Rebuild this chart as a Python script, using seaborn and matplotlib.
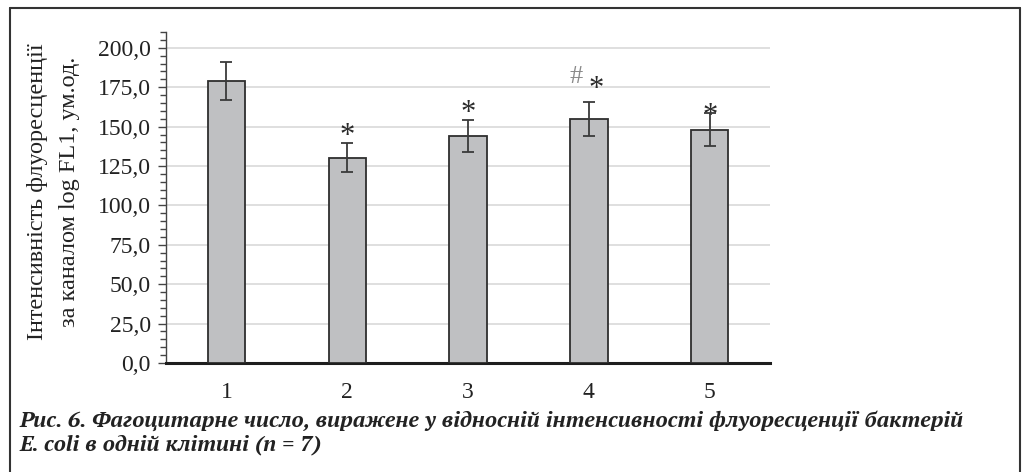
import matplotlib
matplotlib.use("Agg")
import matplotlib.pyplot as plt
from matplotlib.lines import Line2D
from matplotlib.ticker import MultipleLocator, FuncFormatter
from matplotlib import font_manager as fm
from matplotlib.ft2font import FT2Font
import seaborn as sns
import pandas as pd

groups = ["1", "2", "3", "4", "5"]
means = [178.9, 130.2, 144.3, 154.9, 148.1]
errors = [12.2, 9.2, 10.1, 10.9, 10.4]
marks = ["", "*", "*", "*", "*"]
extra_marks = ["", "", "", "#", ""]

ylabel_lines = ["Інтенсивність флуоресценції", "за каналом log FL1, ум.од."]
caption_lines = [
    "Рис. 6. Фагоцитарне число, виражене у відносній інтенсивності флуоресценції бактерій",
    "E. coli в одній клітині (n = 7)",
]

sns.set_theme(style="white")
serif_name = "Liberation Serif"
plt.rcParams["font.serif"] = [serif_name, "DejaVu Serif"]
plt.rcParams["font.family"] = ["serif"]


def covers(family, text):
    """True if the bold-italic face of `family` has every glyph in `text`."""
    prop = fm.FontProperties(family=family, style="italic", weight="bold")
    path = fm.findfont(prop, fallback_to_default=False)
    if fm.FontProperties(fname=path).get_name() != family:
        return False
    cmap = FT2Font(path).get_charmap()
    return all(ord(c) in cmap for c in text if not c.isspace())


# schoolbook-style face for the caption, if one with Cyrillic is installed
installed = {f.name for f in fm.fontManager.ttflist}
caption_font = "DejaVu Serif"
for name in ["C059", "TeX Gyre Schola", "Century Schoolbook L", "PT Serif"]:
    try:
        if name in installed and covers(name, "".join(caption_lines)):
            caption_font = name
            break
    except Exception:
        pass

df = pd.DataFrame({"group": groups, "value": means})

fig = plt.figure(figsize=(10.31, 4.72), dpi=100)
ax = fig.add_axes([0.161, 0.231, 0.586, 0.701])

sns.barplot(data=df, x="group", y="value", ax=ax, width=0.31,
            color="#bfc0c2", saturation=1, edgecolor="#2e2e2e", linewidth=1.3,
            errorbar=None, zorder=3)
ax.errorbar(range(len(groups)), means, yerr=errors, fmt="none",
            ecolor="#3a3a3a", elinewidth=1.3, capsize=4, capthick=1.3, zorder=4)

# vertical offset (points) of each significance mark above its error bar
star_dy = {1: 4.7, 2: 4.8, 3: 9.1, 4: -2.0}
for i, (m, e, s, x2) in enumerate(zip(means, errors, marks, extra_marks)):
    if not s:
        continue
    top = m + e
    dx = 5 if x2 else 0
    ax.annotate(s, (i, top), xytext=(dx, star_dy[i]), textcoords="offset points",
                ha="center", va="center", fontsize=22, color="#2a2a2a",
                family=serif_name)
    if x2:
        ax.annotate(x2, (i, top), xytext=(-9, 17.5), textcoords="offset points",
                    ha="center", va="center", fontsize=19, color="#8a8a8a",
                    family=serif_name)

ax.set_ylim(0, 210)
ax.set_xlim(-0.5, len(groups) - 0.5)
ax.yaxis.set_major_locator(MultipleLocator(25))
ax.yaxis.set_minor_locator(MultipleLocator(5))
ax.yaxis.set_major_formatter(FuncFormatter(lambda v, p: f"{v:.1f}".replace(".", ",")))
ax.grid(axis="y", which="major", color="#dcdcdc", linewidth=1.3, zorder=0)
ax.set_axisbelow(True)

for side in ("top", "right"):
    ax.spines[side].set_visible(False)
ax.spines["bottom"].set_color("#1e1e1e")
ax.spines["bottom"].set_linewidth(2.2)
ax.spines["left"].set_color("#444444")
ax.spines["left"].set_linewidth(1.0)

ax.tick_params(axis="y", which="major", direction="out", length=6, width=1,
               color="#444444", labelsize=17, labelcolor="#222222", pad=5, left=True)
ax.tick_params(axis="y", which="minor", direction="out", length=4, width=1,
               color="#444444", left=True)
ax.tick_params(axis="x", length=0, labelsize=17, labelcolor="#222222", pad=14)
ax.set_xlabel("")
ax.set_ylabel("")

fig.text(38 / 1031, 1 - 192 / 472, ylabel_lines[0], rotation=90, ha="center", va="center",
         fontsize=17.5, color="#222222")
fig.text(70 / 1031, 1 - 192 / 472, ylabel_lines[1], rotation=90, ha="center", va="center",
         fontsize=17.5, color="#222222")

cap = [fig.text(0.019, 1 - y / 472, line, ha="left", va="center",
                fontsize=12.6, style="italic", weight="bold",
                color="#222222", family=[caption_font, "DejaVu Serif"])
       for line, y in zip(caption_lines, (421, 445))]

# scale the caption so that its first line spans the text block width
fig.canvas.draw()
bb = cap[0].get_window_extent()
scale = (962 - 20) / bb.width
for t in cap:
    t.set_fontsize(12.6 * scale)

W, H = 1031, 472
frame_kw = dict(color="#333333", linewidth=1.5, transform=fig.transFigure)
fig.add_artist(Line2D([10 / W, 10 / W], [0, 1 - 8 / H], **frame_kw))
fig.add_artist(Line2D([10 / W, 1020 / W], [1 - 8 / H, 1 - 8 / H], **frame_kw))
fig.add_artist(Line2D([1020 / W, 1020 / W], [0, 1 - 8 / H], **frame_kw))

fig.savefig("out.png", dpi=100, facecolor="white")
